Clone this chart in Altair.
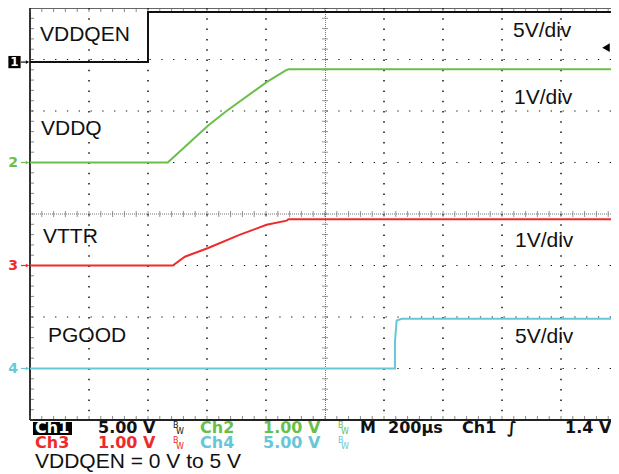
import altair as alt
import pandas as pd
import numpy as np

# ---------------- data ----------------
time_per_div = 200                      # M 200 us/div, trigger at screen centre
channels = ["Ch1", "Ch2", "Ch3", "Ch4"]
signal_names = ["VDDQEN", "VDDQ", "VTTR", "PGOOD"]
volts_per_div = [5.0, 1.0, 1.0, 5.0]
ground_div = [2.95, 1.0, -1.0, -3.0]     # ground marker, divisions above screen centre
colors = ["#111111", "#6abf4a", "#ee2b2b", "#67c7d7"]
trigger_level = 1.4

ch1_t = [-1000, -600, -600, 1000]
ch1_v = [0.0, 0.0, 4.85, 4.85]
ch2_t = [-1000, -533, -396, -336, -198, -133, -124, 1000]
ch2_v = [0.0, 0.0, 0.72, 0.99, 1.56, 1.79, 1.81, 1.81]
ch3_t = [-1000, -516, -475, -396, -288, -198, -130, -124, 1000]
ch3_v = [0.0, 0.0, 0.17, 0.34, 0.60, 0.79, 0.87, 0.90, 0.90]
ch4_t = [-1000, 237, 237, 243, 260, 1000]
ch4_v = [0.0, 0.0, 2.55, 4.66, 4.83, 4.83]

series_t = [ch1_t, ch2_t, ch3_t, ch4_t]
series_v = [ch1_v, ch2_v, ch3_v, ch4_v]

# ---------------- layout ----------------
PX_PER_DIV = 59.0
W, H = 581, 412            # page is only 603 px wide, so the last division is cut short
PX0, PY0 = 30, 8           # page position of plot origin
T_MAX = -5 * time_per_div + W / PX_PER_DIV * time_per_div

rows = []
for ch, ts, vs, vpd, g in zip(channels, series_t, series_v, volts_per_div, ground_div):
    for i, (t, v) in enumerate(zip(ts, vs)):
        rows.append({"ch": ch, "idx": i, "t": min(t, T_MAX), "v": v, "div": g + v / vpd})
traces = pd.DataFrame(rows)

X_SCALE = alt.Scale(domain=[-5 * time_per_div, T_MAX], nice=False, zero=False)
Y_SCALE = alt.Scale(domain=[-4, 4], nice=False, zero=False)
GRID = "#111111"

one = pd.DataFrame({"k": [0]})


def xd(v):
    return alt.XDatum(v, scale=X_SCALE, axis=None)


def yd(v):
    return alt.YDatum(v, scale=Y_SCALE, axis=None)


# dotted graticule (vertical lines drawn as dotted rules between top and bottom)
grid_t = pd.DataFrame({"gt": [float(t) for t in range(-800, 801, time_per_div) if t != 0]})
grid_d = pd.DataFrame({"gd": [-3.0, -2.0, -1.0, 1.0, 2.0, 3.0]})
grid_v = alt.Chart(grid_t).mark_rule(color=GRID, strokeWidth=1.5, strokeDash=[1.5, 8.8]).encode(
    x=alt.X("gt:Q", scale=X_SCALE, axis=None), y=yd(4), y2=alt.datum(-4))
grid_h = alt.Chart(grid_d).mark_rule(color=GRID, strokeWidth=1, strokeDash=[1.3, 10.5]).encode(
    y=alt.Y("gd:Q", scale=Y_SCALE, axis=None))

# centre cross with graticule ticks
centre_v = alt.Chart(one).mark_rule(color="#777777", strokeDash=[1, 1], strokeWidth=1, xOffset=0.5).encode(x=xd(0))
centre_h = alt.Chart(one).mark_rule(color="#777777", strokeDash=[1, 1], strokeWidth=1).encode(y=yd(0))
tx = pd.DataFrame({"t": np.arange(-1000, T_MAX, time_per_div / 5)})
ty = pd.DataFrame({"d": np.arange(-4, 4.01, 0.2)})
centre_ticks_x = alt.Chart(tx).mark_tick(orient="vertical", size=6, thickness=1, color="#666666").encode(
    x=alt.X("t:Q", scale=X_SCALE, axis=None), y=yd(0))
centre_ticks_y = alt.Chart(ty).mark_tick(orient="horizontal", size=6, thickness=1, color="#666666").encode(
    y=alt.Y("d:Q", scale=Y_SCALE, axis=None), x=xd(0))

# border
left_border = alt.Chart(one).mark_rule(color="#333333", strokeWidth=2).encode(x=xd(-1000))
bottom_border = alt.Chart(one).mark_rule(color="#222222", strokeWidth=2).encode(y=yd(-4))
top_border = alt.Chart(one).mark_rule(color="#333333", strokeWidth=1.5).encode(y=yd(4))
bottom_ticks = alt.Chart(tx).mark_tick(orient="vertical", size=3, thickness=1, color="#555555", yOffset=-2.5).encode(
    x=alt.X("t:Q", scale=X_SCALE, axis=None), y=yd(-4))
top_ticks = alt.Chart(tx).mark_tick(orient="vertical", size=3, thickness=1, color="#555555", yOffset=2.5).encode(
    x=alt.X("t:Q", scale=X_SCALE, axis=None), y=yd(4))
left_ticks = alt.Chart(ty).mark_tick(orient="horizontal", size=3, thickness=1, color="#555555", xOffset=2.5).encode(
    y=alt.Y("d:Q", scale=Y_SCALE, axis=None), x=xd(-1000))

trace_layer = alt.Chart(traces).mark_line(strokeWidth=2, interpolate="linear").encode(
    x=alt.X("t:Q", scale=X_SCALE, axis=None),
    y=alt.Y("div:Q", scale=Y_SCALE, axis=None),
    color=alt.Color("ch:N", scale=alt.Scale(domain=channels, range=colors), legend=None),
    detail="ch:N",
    order="idx:Q",
)

layers = [grid_v, grid_h, centre_v, centre_h, centre_ticks_x, centre_ticks_y,
          left_border, bottom_border, top_border, bottom_ticks, top_ticks, left_ticks, trace_layer]

# ground markers on the left: number + arrow
layers.append(alt.Chart(one).mark_point(shape="square", filled=True, size=150, color="#000000", opacity=1).encode(
    x=alt.value(-15.5), y=yd(ground_div[0])))
for i, (ch, g, c) in enumerate(zip(channels, ground_div, colors)):
    num = str(i + 1)
    if i == 0:
        layers.append(alt.Chart(one).mark_text(text=num, align="center", baseline="middle", font="DejaVu Sans",
                                               fontSize=12, fontWeight="bold", color="#ffffff").encode(
            x=alt.value(-15.5), y=yd(g)))
    else:
        layers.append(alt.Chart(one).mark_text(text=num, align="right", baseline="middle", font="DejaVu Sans",
                                               fontSize=14, fontWeight="bold", color=c).encode(
            x=alt.value(-12), y=yd(g)))
    layers.append(alt.Chart(one).mark_rule(color=c, strokeWidth=1.2).encode(
        x=alt.value(-9), x2=alt.value(-2), y=yd(g)))
    layers.append(alt.Chart(one).mark_point(shape="triangle-right", filled=True, size=14, color=c, opacity=1).encode(
        x=alt.value(-2.5), y=yd(g)))

# trigger level marker on the right
layers.append(alt.Chart(one).mark_point(shape="triangle-left", filled=True, size=75, color="#000000", opacity=1).encode(
    x=alt.value(W - 5), y=yd(ground_div[0] + trigger_level / volts_per_div[0])))


def page_text(s, px, py, color="#111111", size=16, font="DejaVu Sans", weight="bold", align="left"):
    return alt.Chart(one).mark_text(text=s, align=align, baseline="alphabetic", font=font, fontSize=size,
                                    fontWeight=weight, color=color).encode(
        x=alt.value(px - PX0), y=alt.value(py - PY0))


# signal names and V/div labels inside the graticule
name_pos = [(40, 41), (41, 135), (43, 243), (48, 342)]
vdiv_pos = [(513, 37), (514, 104), (515, 247), (515, 343)]
for name, (px, py) in zip(signal_names, name_pos):
    layers.append(page_text(name, px, py, "#111111", 21, "Liberation Sans", "normal"))
for vpd, (px, py) in zip(volts_per_div, vdiv_pos):
    layers.append(page_text(f"{int(vpd)}V/div", px, py, "#111111", 21, "Liberation Sans", "normal"))

# status bar
layers.append(alt.Chart(one).mark_rect(color="#000000").encode(
    x=alt.value(33 - PX0), x2=alt.value(72 - PX0), y=alt.value(422 - PY0), y2=alt.value(435 - PY0)))
layers.append(page_text("Ch1", 35, 433, "#ffffff"))


def bw(px, base, color):
    return [page_text("B", px, base - 5, color, 8, "DejaVu Sans", "normal"),
            page_text("W", px + 3, base + 1, color, 8, "DejaVu Sans", "normal")]


r1, r2 = 433, 448
layers += [page_text(f"{volts_per_div[0]:.2f} V", 98, r1, colors[0])] + bw(173, r1, colors[0])
layers += [page_text("Ch2", 200, r1, colors[1]), page_text(f"{volts_per_div[1]:.2f} V", 263, r1, colors[1])] + bw(338, r1, colors[1])
layers += [page_text("M", 360, r1), page_text(f"{time_per_div}\u00b5s", 388, r1), page_text("Ch1", 462, r1),
           page_text("\u222b", 507, r1), page_text(f"{trigger_level} V", 565, r1)]
layers += [page_text("Ch3", 35, r2, colors[2]), page_text(f"{volts_per_div[2]:.2f} V", 98, r2, colors[2])] + bw(173, r2, colors[2])
layers += [page_text("Ch4", 200, r2, colors[3]), page_text(f"{volts_per_div[3]:.2f} V", 263, r2, colors[3])] + bw(338, r2, colors[3])
layers.append(page_text("VDDQEN = 0 V to 5 V", 35, 468, "#111111", 21, "Liberation Sans", "normal"))

chart = alt.layer(*layers).properties(
    width=W, height=H,
    padding={"left": 22, "top": 0, "right": 0, "bottom": 54},
    autosize=alt.AutoSizeParams(type="none"),
    background="#ffffff",
).configure_view(stroke=None)

chart.save("out.html", embed_options={"renderer": "svg", "actions": False})
